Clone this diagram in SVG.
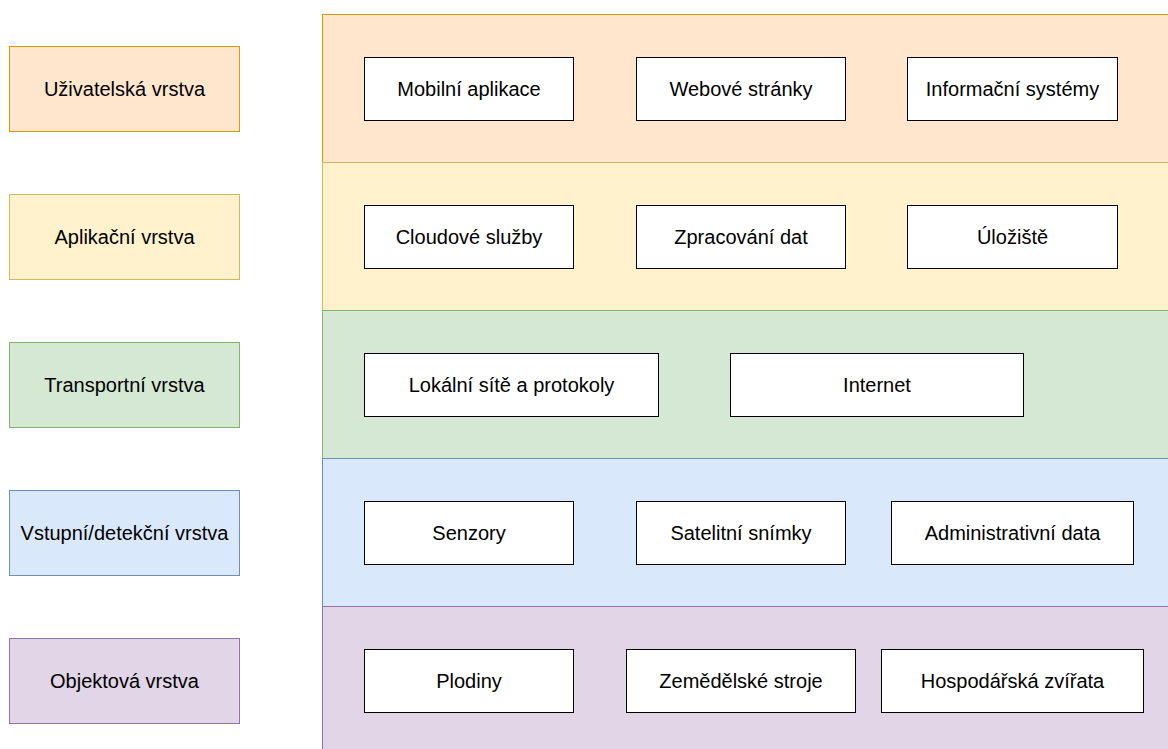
<svg xmlns="http://www.w3.org/2000/svg" width="1168" height="749" viewBox="0 0 1168 749">
<style>
text{font-family:"Liberation Sans",Arial,sans-serif;font-size:20px;fill:#000;text-anchor:middle}
.box{fill:#fff;stroke:#000;stroke-width:1}
.o{fill:#ffe6cc;stroke:#d79b00}
.y{fill:#fff2cc;stroke:#d6b656}
.g{fill:#d5e8d4;stroke:#82b366}
.b{fill:#dae8fc;stroke:#6c8ebf}
.p{fill:#e1d5e7;stroke:#9673a6}
</style>
<rect width="1168" height="749" fill="#fff"/>
<g id="panels">
<rect id="panel-user" class="o" x="322.5" y="14.5" width="860" height="148"/>
<rect id="panel-app" class="y" x="322.5" y="162.5" width="860" height="148"/>
<rect id="panel-transport" class="g" x="322.5" y="310.5" width="860" height="148"/>
<rect id="panel-input" class="b" x="322.5" y="458.5" width="860" height="148"/>
<rect id="panel-object" class="p" x="322.5" y="606.5" width="860" height="148"/>
</g>
<g id="layer-labels">
<g id="lbl-user"><rect class="o" x="9.5" y="46.5" width="230" height="85"/><text x="124.5" y="96">Uživatelská vrstva</text></g>
<g id="lbl-app"><rect class="y" x="9.5" y="194.5" width="230" height="85"/><text x="124.5" y="244">Aplikační vrstva</text></g>
<g id="lbl-transport"><rect class="g" x="9.5" y="342.5" width="230" height="85"/><text x="124.5" y="392">Transportní vrstva</text></g>
<g id="lbl-input"><rect class="b" x="9.5" y="490.5" width="230" height="85"/><text x="124.5" y="540">Vstupní/detekční vrstva</text></g>
<g id="lbl-object"><rect class="p" x="9.5" y="638.5" width="230" height="85"/><text x="124.5" y="688">Objektová vrstva</text></g>
</g>
<g id="n-mobile"><rect class="box" x="364.5" y="57.5" width="209" height="63"/><text x="469" y="96">Mobilní aplikace</text></g>
<g id="n-web"><rect class="box" x="636.5" y="57.5" width="209" height="63"/><text x="741" y="96">Webové stránky</text></g>
<g id="n-is"><rect class="box" x="907.5" y="57.5" width="210" height="63"/><text x="1012.5" y="96">Informační systémy</text></g>
<g id="n-cloud"><rect class="box" x="364.5" y="205.5" width="209" height="63"/><text x="469" y="244">Cloudové služby</text></g>
<g id="n-proc"><rect class="box" x="636.5" y="205.5" width="209" height="63"/><text x="741" y="244">Zpracování dat</text></g>
<g id="n-store"><rect class="box" x="907.5" y="205.5" width="210" height="63"/><text x="1012.5" y="244">Úložiště</text></g>
<g id="n-lan"><rect class="box" x="364.5" y="353.5" width="294" height="63"/><text x="511.5" y="392">Lokální sítě a protokoly</text></g>
<g id="n-internet"><rect class="box" x="730.5" y="353.5" width="293" height="63"/><text x="877" y="392">Internet</text></g>
<g id="n-sensors"><rect class="box" x="364.5" y="501.5" width="209" height="63"/><text x="469" y="540">Senzory</text></g>
<g id="n-sat"><rect class="box" x="636.5" y="501.5" width="209" height="63"/><text x="741" y="540">Satelitní snímky</text></g>
<g id="n-admin"><rect class="box" x="891.5" y="501.5" width="242" height="63"/><text x="1012.5" y="540">Administrativní data</text></g>
<g id="n-crops"><rect class="box" x="364.5" y="649.5" width="209" height="63"/><text x="469" y="688">Plodiny</text></g>
<g id="n-machines"><rect class="box" x="626.5" y="649.5" width="229" height="63"/><text x="741" y="688">Zemědělské stroje</text></g>
<g id="n-animals"><rect class="box" x="881.5" y="649.5" width="262" height="63"/><text x="1012.5" y="688">Hospodářská zvířata</text></g>
<g id="connectors"/>
</svg>
